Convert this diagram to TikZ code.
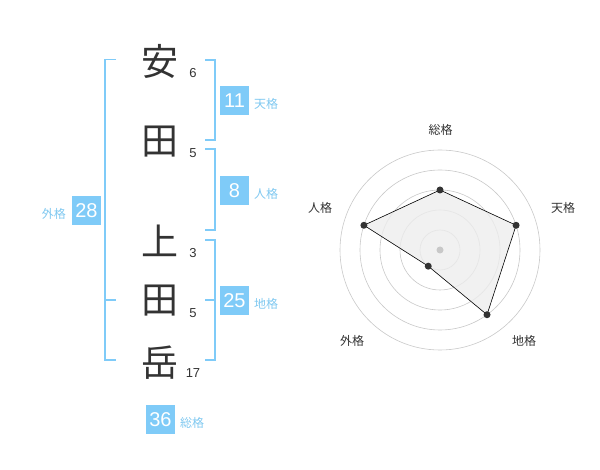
\documentclass[tikz,border=0pt]{standalone}
\usepackage{fontspec}
\setmainfont{Liberation Sans}
\newfontfamily\cjk{Noto Sans CJK JP}
\definecolor{ink}{HTML}{333333}
\definecolor{boxblue}{HTML}{7FCBF8}
\definecolor{lineblue}{HTML}{7FCBF8}
\definecolor{lblue}{HTML}{7FC8F0}
\definecolor{ringgray}{HTML}{C8C8C8}
\definecolor{areafill}{HTML}{EDEDED}
\tikzset{
  kanji/.style={font=\cjk\fontsize{37}{37}\selectfont, text=ink, inner sep=0pt},
  strokes/.style={font=\fontsize{13}{13}\selectfont, text=ink, inner sep=0pt},
  valbox/.style={fill=boxblue, text=white, minimum size=29pt, inner sep=0pt, font=\fontsize{20}{20}\selectfont},
  lbl/.style={font=\cjk\fontsize{12}{12}\selectfont, text=lblue, inner sep=0pt},
  brk/.style={draw=lineblue, line width=1.5pt},
  ring/.style={draw=ringgray, line width=0.6pt},
  dotpt/.style={circle, fill=ink, inner sep=0pt, minimum size=7pt},
  axlbl/.style={font=\cjk\fontsize{12}{12}\selectfont, text=ink, inner sep=0pt},
}
\begin{document}
\begin{tikzpicture}[x=1pt,y=-1pt]
\useasboundingbox (0,0) rectangle (600,470);
% name characters
\node[kanji] (k1) at (160,61) {安};
\node[kanji] (k2) at (160,142) {田};
\node[kanji] (k3) at (160,241) {上};
\node[kanji] (k4) at (160,301) {田};
\node[kanji] (k5) at (160,363) {岳};
\node[strokes] (s1) at (193,73) {6};
\node[strokes] (s2) at (193,153) {5};
\node[strokes] (s3) at (193,253) {3};
\node[strokes] (s4) at (193,313) {5};
\node[strokes] (s5) at (193,373) {17};
% brackets
\draw[brk] (116,59.5) -- (105,59.5) -- (105,360) -- (116,360);
\draw[brk] (105,300) -- (116,300);
\draw[brk] (205,60) -- (215,60) -- (215,140) -- (205,140);
\draw[brk] (205,149) -- (215,149) -- (215,230) -- (205,230);
\draw[brk] (205,240) -- (215,240) -- (215,360) -- (205,360);
\draw[brk] (205,300) -- (215,300);
% value boxes
\node[valbox] (ten) at (234.5,100.5) {11};
\node[lbl, anchor=west] (tenl) at (254,104) {天格};
\node[valbox] (jin) at (234.5,190.5) {8};
\node[lbl, anchor=west] (jinl) at (254,194) {人格};
\node[valbox] (chi) at (234.5,300.5) {25};
\node[lbl, anchor=west] (chil) at (254,304) {地格};
\node[valbox] (gai) at (86.5,210.5) {28};
\node[lbl, anchor=east] (gail) at (66,214) {外格};
\node[valbox] (sou) at (160.5,419.5) {36};
\node[lbl, anchor=west] (soul) at (180,423) {総格};
% radar
\coordinate (c) at (440,250);
\foreach \r in {20,40,60,80,100} \draw[ring] (c) circle[radius=\r];
\path (c) ++(-90:60) coordinate (p1);
\path (c) ++(-18:80) coordinate (p2);
\path (c) ++(54:80) coordinate (p3);
\path (c) ++(126:20) coordinate (p4);
\path (c) ++(198:80) coordinate (p5);
\draw[fill=areafill, fill opacity=0.8, draw=black, line width=0.6pt] (p1) -- (p2) -- (p3) -- (p4) -- (p5) -- cycle;
\fill[ringgray] (c) circle[radius=3.5];
\foreach \p in {p1,p2,p3,p4,p5} \node[dotpt] at (\p) {};
\node[axlbl] (a1) at (440.5,130) {総格};
\node[axlbl] (a2) at (563,208) {天格};
\node[axlbl] (a3) at (524,341) {地格};
\node[axlbl] (a4) at (352,341) {外格};
\node[axlbl] (a5) at (320,208) {人格};
\end{tikzpicture}
\end{document}
